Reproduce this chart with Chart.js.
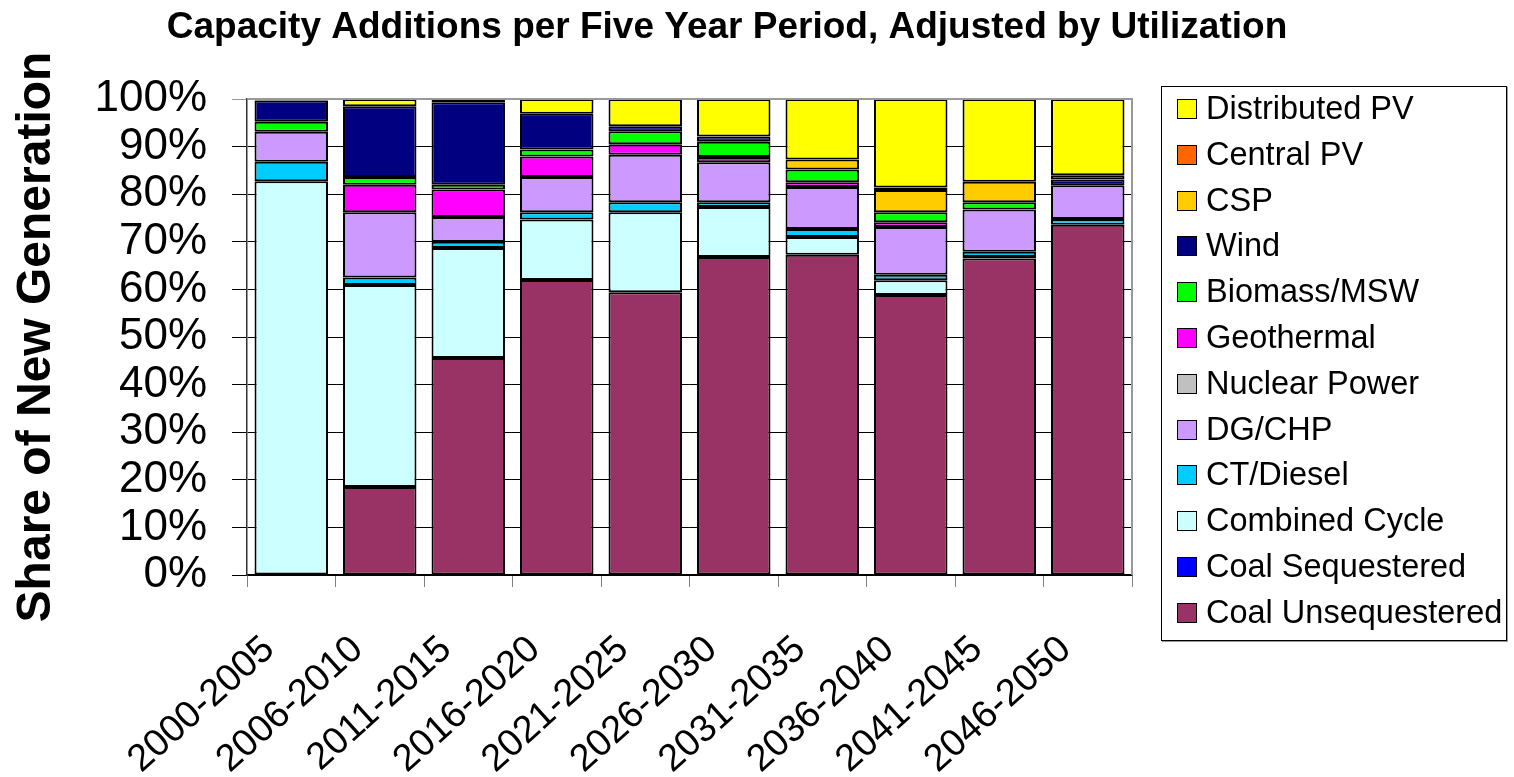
<!DOCTYPE html>
<html>
<head>
<meta charset="utf-8">
<script src="https://cdn.jsdelivr.net/npm/chart.js@4"></script>
<style>
  body { margin: 0; background: #fff; }
  #wrap { position: relative; width: 1514px; height: 777px; }
  #legend {
    position: absolute; left: 1161px; top: 86px; width: 346px; height: 555px;
    border: 1px solid #000; box-shadow: 1px 1px 0 #999; box-sizing: border-box;
    font-family: "Liberation Sans", Arial, sans-serif; font-size: 32.5px; color: #000;
  }
  .item { position: absolute; left: 0; height: 46px; line-height: 46px; white-space: nowrap; }
  .sw { position: absolute; left: 15px; top: 12px; width: 18px; height: 18px; border: 1.5px solid #000; }
  .tx { position: absolute; left: 44px; top: -2px; }
</style>
</head>
<body>
<div id="wrap">
  <canvas id="chart" width="1514" height="777"></canvas>
  <div id="legend"></div>
</div>
<script>
// periods on the x axis
var periods = ["2000-2005","2006-2010","2011-2015","2016-2020","2021-2025","2026-2030","2031-2035","2036-2040","2041-2045","2046-2050"];

// share of new generation (%), bottom of stack first
var coalUnseq   = [0, 18.5, 45.6, 62.0, 59.4, 66.8, 67.3, 58.8, 66.5, 73.6];
var coalSeq     = [0, 0, 0, 0, 0, 0, 0, 0, 0, 0];
var combCycle   = [82.7, 42.4, 23.1, 12.7, 16.8, 10.5, 3.7, 3.1, 0.3, 0];
var ctDiesel    = [4.1, 1.6, 1.3, 1.5, 2.1, 1.0, 1.7, 1.2, 1.1, 1.2];
var dgChp       = [6.3, 13.7, 5.2, 7.4, 10.0, 8.4, 8.8, 10.0, 8.9, 7.1];
var nuclear     = [0, 0, 0, 0, 0, 0, 0, 0, 0, 0];
var geothermal  = [0, 5.8, 5.8, 4.3, 2.2, 1.1, 1.0, 1.0, 0, 0];
var biomass     = [2.1, 1.6, 1.0, 1.5, 2.7, 3.2, 2.7, 2.1, 1.5, 0];
var wind        = [4.5, 14.9, 17.3, 7.5, 1.1, 1.1, 0, 0, 0, 1.2];
var csp         = [0, 0, 0, 0, 0, 0, 2.1, 4.7, 4.3, 0.9];
var centralPv   = [0, 0, 0, 0, 0, 0, 0, 0.5, 0, 0];
var distPv      = [0.3, 1.5, 0.7, 3.1, 5.7, 7.9, 12.7, 18.6, 17.4, 16.0];

var yTicks = [0, 10, 20, 30, 40, 50, 60, 70, 80, 90, 100];

var seriesNames  = ["Coal Unsequestered","Coal Sequestered","Combined Cycle","CT/Diesel","DG/CHP","Nuclear Power","Geothermal","Biomass/MSW","Wind","CSP","Central PV","Distributed PV"];
var seriesData   = [coalUnseq, coalSeq, combCycle, ctDiesel, dgChp, nuclear, geothermal, biomass, wind, csp, centralPv, distPv];
var seriesColors = ["#993366","#0000FF","#CCFFFF","#00CCFF","#CC99FF","#C0C0C0","#FF00FF","#00FF00","#000080","#FFCC00","#FF6600","#FFFF00"];

var chartTitle = "Capacity Additions per Five Year Period, Adjusted by Utilization";

var FONT = '"Liberation Sans", Arial, sans-serif';

var datasets = seriesNames.map(function(name, i) {
  return {
    label: name,
    data: seriesData[i],
    backgroundColor: seriesColors[i],
    borderColor: "#000",
    borderWidth: 2,
    borderSkipped: false,
    categoryPercentage: 1,
    barPercentage: 0.83
  };
});

// grey frame on top and right of the plot area, and the title
var frame = {
  id: "frame",
  afterDatasetsDraw: function(chart) {
    var a = chart.chartArea, ctx = chart.ctx;
    ctx.save();
    ctx.strokeStyle = "#999";
    ctx.lineWidth = 2;
    ctx.beginPath();
    ctx.moveTo(a.left, a.top);
    ctx.lineTo(a.right, a.top);
    ctx.lineTo(a.right, a.bottom);
    ctx.stroke();
    ctx.restore();
  },
  afterDraw: function(chart) {
    var ctx = chart.ctx;
    ctx.save();
    ctx.fillStyle = "#000";
    ctx.font = "bold 37px " + FONT;
    ctx.textAlign = "center";
    ctx.textBaseline = "middle";
    ctx.fillText(chartTitle, 727, 28);
    ctx.restore();
  }
};

var chart = new Chart(document.getElementById("chart"), {
  type: "bar",
  data: { labels: periods, datasets: datasets },
  options: {
    responsive: false,
    animation: false,
    layout: { padding: { left: 0, right: 382, top: 99, bottom: 0 } },
    plugins: {
      legend: { display: false },
      tooltip: { enabled: false },
      title: { display: false }
    },
    scales: {
      x: {
        stacked: true,
        afterFit: function(s) { s.height = 202; },
        grid: { display: true, drawOnChartArea: false, offset: true, color: "#808080", tickLength: 12 },
        border: { display: true, color: "#000", width: 1.5 },
        ticks: {
          color: "#000",
          font: { family: FONT, size: 38 },
          minRotation: 42, maxRotation: 42,
          padding: 40,
          labelOffset: -22
        }
      },
      y: {
        stacked: true,
        min: 0, max: 100,
        afterFit: function(s) { s.width = 247; },
        afterBuildTicks: function(s) { s.ticks = yTicks.map(function(v) { return { value: v }; }); },
        grid: {
          color: function(c) { return c.tick && c.tick.value === 100 ? "#999" : "#000"; },
          lineWidth: 1,
          tickLength: 15
        },
        border: { display: true, color: "#333", width: 1.5 },
        ticks: {
          color: "#000",
          autoSkip: false,
          font: { family: FONT, size: 44 },
          padding: 25,
          callback: function(v) { return v + "%"; }
        },
        title: {
          display: true,
          text: "Share of New Generation",
          color: "#000",
          font: { family: FONT, size: 48, weight: "bold" },
          padding: { top: 8, bottom: 0 }
        }
      }
    }
  },
  plugins: [frame]
});

// legend, top of stack first
var legend = document.getElementById("legend");
chart.data.datasets.slice().reverse().forEach(function(ds, i) {
  var row = document.createElement("div");
  row.className = "item";
  row.style.top = (i * 45.8) + "px";
  var sw = document.createElement("span");
  sw.className = "sw";
  sw.style.background = ds.backgroundColor;
  var tx = document.createElement("span");
  tx.className = "tx";
  tx.textContent = ds.label;
  row.appendChild(sw);
  row.appendChild(tx);
  legend.appendChild(row);
});
</script>
</body>
</html>
